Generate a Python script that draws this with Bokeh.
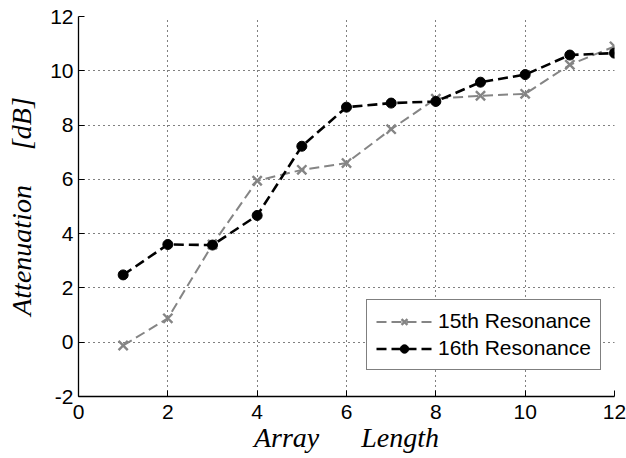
from bokeh.plotting import figure
from bokeh.models import Range1d, FixedTicker, Legend, LegendItem
from bokeh.embed import file_html
from bokeh.resources import INLINE

array_length = [1, 2, 3, 4, 5, 6, 7, 8, 9, 10, 11, 12]
res15 = [-0.12, 0.88, 3.6, 5.95, 6.35, 6.6, 7.85, 8.97, 9.08, 9.15, 10.22, 10.9]
res16 = [2.48, 3.6, 3.58, 4.67, 7.22, 8.66, 8.81, 8.87, 9.58, 9.86, 10.58, 10.65]
x_ticks = [0, 2, 4, 6, 8, 10, 12]
y_ticks = [-2, 0, 2, 4, 6, 8, 10, 12]
y_tick_labels = ["-2", "0", "2", "4", "6", "8", "10", "12"]
name15 = "15th Resonance"
name16 = "16th Resonance"
nb = "\u00a0"

p = figure(width=626, height=458, output_backend="svg", toolbar_location=None,
           x_range=Range1d(0, 12), y_range=Range1d(-2, 12),
           min_border_left=78, min_border_right=12, min_border_top=16, min_border_bottom=62)
p.outline_line_color = None
p.background_fill_color = "white"
p.border_fill_color = "white"

for ax in (p.xaxis[0], p.yaxis[0]):
    ax.major_label_text_font = "Liberation Sans"
    ax.major_label_text_font_size = "21px"
    ax.major_label_text_color = "black"
    ax.axis_line_color = "black"
    ax.axis_line_width = 1.3
    ax.major_tick_line_color = "black"
    ax.major_tick_in = 6
    ax.major_tick_out = 0
    ax.minor_tick_line_color = None
    ax.axis_label_text_font = "Liberation Serif"
    ax.axis_label_text_font_style = "italic"
    ax.axis_label_text_font_size = "28px"
    ax.axis_label_text_color = "black"

p.xaxis[0].ticker = FixedTicker(ticks=x_ticks)
p.yaxis[0].ticker = FixedTicker(ticks=y_ticks)
p.yaxis[0].major_label_overrides = {t: s for t, s in zip(y_ticks, y_tick_labels)}
p.xaxis[0].axis_label = "Array" + nb * 6 + "Length"
p.yaxis[0].axis_label = "Attenuation" + nb * 5 + "[dB]"
p.xaxis[0].major_label_standoff = 8
p.yaxis[0].major_label_standoff = 5
p.xaxis[0].axis_label_standoff = 0
p.yaxis[0].axis_label_standoff = 10

for g in (p.xgrid[0], p.ygrid[0]):
    g.grid_line_color = "black"
    g.grid_line_dash = "1 4"
    g.grid_line_width = 1
    g.grid_line_alpha = 1.0
p.xgrid[0].ticker = FixedTicker(ticks=x_ticks)
p.ygrid[0].ticker = FixedTicker(ticks=y_ticks)

gray = "#858585"
l15 = p.line(array_length, res15, line_color=gray, line_width=2, line_dash="10 5")
m15 = p.scatter(array_length, res15, marker="x", size=13, line_color=gray, line_width=2.4)
l16 = p.line(array_length, res16, line_color="black", line_width=2.6, line_dash="10 5")
m16 = p.scatter(array_length, res16, marker="circle", size=10, fill_color="black", line_color="black")

legend = Legend(items=[LegendItem(label=name15, renderers=[l15, m15]),
                       LegendItem(label=name16, renderers=[l16, m16])],
                location=(288, 26))
legend.label_text_font = "Liberation Sans"
legend.label_text_font_size = "21px"
legend.label_text_color = "black"
legend.glyph_width = 56
legend.glyph_height = 21
legend.label_height = 21
legend.spacing = 3
legend.padding = 9
legend.label_standoff = 6
legend.border_line_color = "black"
legend.border_line_width = 1
legend.background_fill_color = "white"
legend.background_fill_alpha = 1
legend.margin = 0
p.add_layout(legend)

open("out.html", "w").write(file_html(p, INLINE))
